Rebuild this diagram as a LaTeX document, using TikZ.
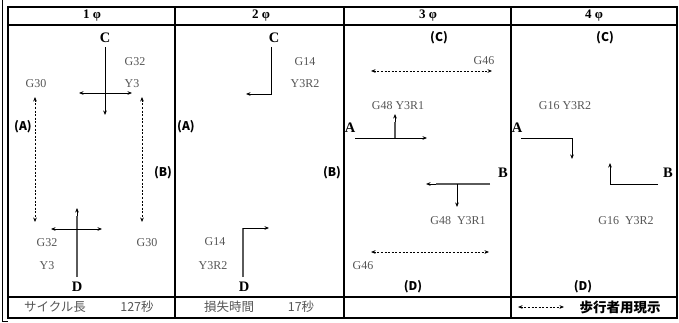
\documentclass[tikz,border=0pt]{standalone}
\usepackage{fontspec}
\usetikzlibrary{arrows.meta}
\setmainfont{Liberation Serif}
\newfontfamily\jpfont{Noto Sans CJK JP}
\definecolor{labgray}{RGB}{85,85,85}
\definecolor{lngray}{RGB}{90,90,90}
\begin{document}
\begin{tikzpicture}[x=1pt,y=-1pt,
  lab/.style={text=labgray, font=\fontsize{12}{12}\selectfont, inner sep=0pt},
  dirl/.style={font=\bfseries\fontsize{14.5}{14.5}\selectfont, inner sep=0pt},
  pdir/.style={font=\jpfont\bfseries\fontsize{12}{12}\selectfont, inner sep=0pt},
  hdr/.style={font=\bfseries\fontsize{13}{13}\selectfont, inner sep=0pt},
  foot/.style={font=\jpfont\fontsize{12.5}{12.5}\selectfont, text=labgray, inner sep=0pt},
  flow/.style={line width=0.9pt, -{Stealth[length=4.5pt,width=3.6pt]}},
  flow2/.style={line width=0.9pt, {Stealth[length=4.5pt,width=3.6pt]}-{Stealth[length=4.5pt,width=3.6pt]}},
  flowg/.style={line width=1.2pt, draw=lngray},
  ped/.style={line width=0.8pt, dash pattern=on 2pt off 1.6pt, {Stealth[length=4.5pt,width=3.6pt]}-{Stealth[length=4.5pt,width=3.6pt]}},
  gridl/.style={line width=1.8pt}]
\useasboundingbox (0,0) rectangle (679,323);
% table
\draw[line width=0.8pt] (2,0) -- (2,321) -- (8,321);
\draw[gridl] (8,7) rectangle (677,318);
\draw[gridl] (8,25) -- (677,25);
\draw[gridl] (8,297) -- (677,297);
\draw[gridl] (175,7) -- (175,318);
\draw[gridl] (344,7) -- (344,318);
\draw[gridl] (511,7) -- (511,318);
% headers
\node[hdr] (h1) at (92,16) {1 φ};
\node[hdr] (h2) at (261,16) {2 φ};
\node[hdr] (h3) at (428,16) {3 φ};
\node[hdr] (h4) at (594,16) {4 φ};
% ---------- phase 1
\node[dirl] (c1) at (105,38) {C};
\coordinate (c1s) at (105,47); \coordinate (c1e) at (105,115);
\draw[flow] (c1s) -- (c1e);
\coordinate (p1a) at (79,93); \coordinate (p1b) at (132,93);
\draw[flow2] (p1a) -- (p1b);
\node[lab] (g32a) at (135,62) {G32};
\node[lab] (y3a) at (132,84) {Y3};
\node[lab] (g30a) at (36,84) {G30};
\coordinate (pa1) at (35,97); \coordinate (pa2) at (35,222);
\draw[ped] (pa1) -- (pa2);
\coordinate (pb1) at (142,97); \coordinate (pb2) at (142,222);
\draw[ped] (pb1) -- (pb2);
\node[pdir] (a1) at (23,127) {(A)};
\node[pdir] (b1) at (163,173) {(B)};
\node[dirl] (d1) at (77,287) {D};
\coordinate (d1s) at (77,277); \coordinate (d1m) at (77,216); \coordinate (d1e) at (77,208);
\draw[flowg] (d1s) -- (d1m);
\draw[flow] (d1m) -- (d1e);
\coordinate (q1a) at (51,229); \coordinate (q1b) at (102,229);
\draw[flow2] (q1a) -- (q1b);
\node[lab] (g32b) at (47,243) {G32};
\node[lab] (y3b) at (47,266) {Y3};
\node[lab] (g30b) at (147,243) {G30};
\node[foot] (cyc) at (55,307) {サイクル長};
\node[foot] (cycv) at (137,307) {127秒};
% ---------- phase 2
\node[dirl] (c2) at (274,38) {C};
\coordinate (c2s) at (271,47); \coordinate (c2m) at (271,94); \coordinate (c2e) at (246,94);
\draw[flow] (c2s) -- (c2m) -- (c2e);
\node[lab] (g14a) at (305,62) {G14};
\node[lab] (y3r2a) at (305,84) {Y3R2};
\node[pdir] (a2) at (186,127) {(A)};
\node[pdir] (b2) at (332,173) {(B)};
\node[dirl] (d2) at (244,287) {D};
\coordinate (d2s) at (243,277); \coordinate (d2m) at (243,228); \coordinate (d2e) at (269,228);
\draw[flowg] (d2s) -- (d2m);
\draw[flow] (d2m) -- (d2e);
\node[lab] (g14b) at (215,242) {G14};
\node[lab] (y3r2b) at (213,266) {Y3R2};
\node[foot] (loss) at (229,307) {損失時間};
\node[foot] (lossv) at (301,307) {17秒};
% ---------- phase 3
\node[pdir] (c3) at (439,38) {(C)};
\coordinate (r3a) at (371,71); \coordinate (r3b) at (492,71);
\draw[ped] (r3a) -- (r3b);
\node[lab] (g46a) at (484,61) {G46};
\node[lab] (g48a) at (398,106) {G48 Y3R1};
\node[dirl] (a3) at (350,128) {A};
\coordinate (a3s) at (355,138); \coordinate (a3e) at (427,138);
\draw[flow] (a3s) -- (a3e);
\coordinate (a3b) at (395,138); \coordinate (a3m) at (395,122); \coordinate (a3u) at (395,114);
\draw[flowg] (a3b) -- (a3m);
\draw[flow] (a3m) -- (a3u);
\node[dirl] (b3) at (503,173) {B};
\coordinate (b3s) at (490,184); \coordinate (b3m) at (436,184); \coordinate (b3e) at (426,184);
\draw[flowg] (b3s) -- (b3m);
\draw[flow] (b3m) -- (b3e);
\coordinate (b3b) at (457,184); \coordinate (b3d) at (457,207);
\draw[flow] (b3b) -- (b3d);
\node[lab] (g48b) at (458,221) {G48\enspace Y3R1};
\coordinate (s3a) at (371,252); \coordinate (s3b) at (489,252);
\draw[ped] (s3a) -- (s3b);
\node[lab] (g46b) at (363,266) {G46};
\node[pdir] (d3) at (413,287) {(D)};
% ---------- phase 4
\node[pdir] (c4) at (605,38) {(C)};
\node[lab] (g16a) at (565,106) {G16 Y3R2};
\node[dirl] (a4) at (517,128) {A};
\coordinate (a4s) at (521,138); \coordinate (a4m) at (572,138); \coordinate (a4e) at (572,159);
\draw[flow] (a4s) -- (a4m) -- (a4e);
\node[dirl] (b4) at (668,173) {B};
\coordinate (b4s) at (658,184); \coordinate (b4m) at (610,184); \coordinate (b4e) at (610,163);
\draw[flow] (b4s) -- (b4m) -- (b4e);
\node[lab] (g16b) at (626,221) {G16\enspace Y3R2};
\node[pdir] (d4) at (583,287) {(D)};
\coordinate (lg1) at (518,307); \coordinate (lg2) at (564,307);
\draw[ped] (lg1) -- (lg2);
\node[font=\jpfont\bfseries\fontsize{13.5}{13.5}\selectfont, inner sep=0pt] (pedl) at (620,307) {歩行者用現示};
\end{tikzpicture}
\end{document}
